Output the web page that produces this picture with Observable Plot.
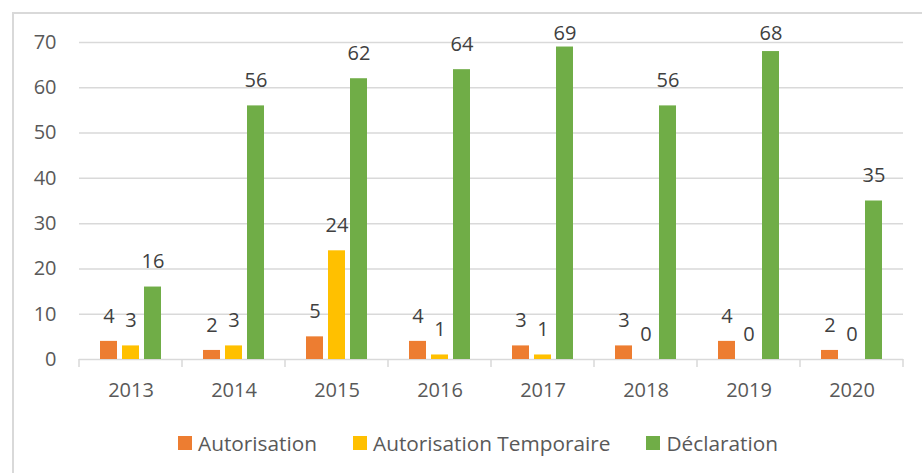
<!DOCTYPE html>
<html>
<head>
<meta charset="utf-8">
<script src="https://cdn.jsdelivr.net/npm/d3@7"></script>
<script src="https://cdn.jsdelivr.net/npm/@observablehq/plot@0.6"></script>
<style>
  html, body { margin: 0; padding: 0; background: #fff; }
  body { width: 922px; height: 473px; position: relative; overflow: hidden; font-family: "Open Sans", sans-serif; }
  #frame { position: absolute; left: 12px; top: 12px; right: -10px; bottom: -10px; border-top: 2px solid #d9d9d9; border-left: 2px solid #d9d9d9; }
  #chart { position: absolute; left: 0; top: 0; }
  #legend { position: absolute; left: 178px; top: 429px; display: flex; align-items: center; font-size: 20.8px; color: #595959; white-space: nowrap; }
  .item { display: flex; align-items: center; margin-right: 36px; }
  .sw { width: 14px; height: 14px; margin-right: 6px; }
</style>
</head>
<body>
<div id="frame"></div>
<div id="chart"></div>
<div id="legend"></div>
<script>
const years = ["2013", "2014", "2015", "2016", "2017", "2018", "2019", "2020"];
const series = ["Autorisation", "Autorisation Temporaire", "Déclaration"];
const autorisation = [4, 2, 5, 4, 3, 3, 4, 2];
const autorisationTemporaire = [3, 3, 24, 1, 1, 0, 0, 0];
const declaration = [16, 56, 62, 64, 69, 56, 68, 35];
const yTicks = [0, 10, 20, 30, 40, 50, 60, 70];
const colors = ["#ED7D31", "#FFC000", "#70AD47"];

const seriesValues = [autorisation, autorisationTemporaire, declaration];
const data = years.flatMap((year, i) =>
  series.map((s, j) => ({ year, series: s, value: seriesValues[j][i] }))
);

const W = 922, H = 420;
const plot = Plot.plot({
  width: W,
  height: H,
  marginLeft: 76,
  marginRight: 17,
  marginTop: 42,
  marginBottom: 61,
  style: { fontFamily: "Open Sans", fontSize: "20px", color: "#595959", background: "transparent", overflow: "visible" },
  fx: { domain: years, padding: 0, axis: "bottom", tickSize: 0, tickPadding: 23, label: null },
  x: { domain: series, paddingInner: 0.22, paddingOuter: 0.86, axis: null },
  y: { domain: [0, 70], ticks: yTicks, tickSize: 0, tickPadding: 23, label: null },
  color: { domain: series, range: colors },
  marks: [
    Plot.ruleY(yTicks.filter(d => d > 0), { stroke: "#d9d9d9", strokeWidth: 1.5 }),
    Plot.ruleY([0], { stroke: "#d9d9d9", strokeWidth: 1.5 }),
    Plot.barY(data, { fx: "year", x: "series", y: "value", fill: "series" }),
    Plot.text(data, { fx: "year", x: "series", y: "value", text: d => String(d.value), dy: -25, fill: "#404040", fontSize: 20, className: "vlabel" })
  ]
});
document.getElementById("chart").appendChild(plot);

// keep data labels inside the chart area (as Excel does)
d3.select(plot).selectAll(".vlabel text").each(function () {
  const b = this.getBBox();
  const ctm = this.getCTM();
  const top = b.y * (ctm ? ctm.d : 1) + (ctm ? ctm.f : 0);
  const minTop = 19;
  if (top < minTop) {
    const t = this.getAttribute("transform") || "";
    this.setAttribute("transform", (t + " translate(0," + (minTop - top) + ")").trim());
  }
});

// category boundary ticks (Excel style) using Plot's fx scale
const fx = plot.scale("fx");
const y = plot.scale("y");
const y0 = y.apply(0);
const bounds = years.map(yr => fx.apply(yr)).concat([fx.apply(years[years.length - 1]) + fx.bandwidth]);
d3.select(plot).append("g")
  .selectAll("line").data(bounds).join("line")
  .attr("x1", d => d).attr("x2", d => d)
  .attr("y1", y0).attr("y2", y0 + 8)
  .attr("stroke", "#d9d9d9").attr("stroke-width", 1.5);

// legend
const legend = d3.select("#legend");
series.forEach((s, i) => {
  const it = legend.append("div").attr("class", "item");
  it.append("div").attr("class", "sw").style("background", colors[i]);
  it.append("span").text(s);
});
</script>
</body>
</html>
